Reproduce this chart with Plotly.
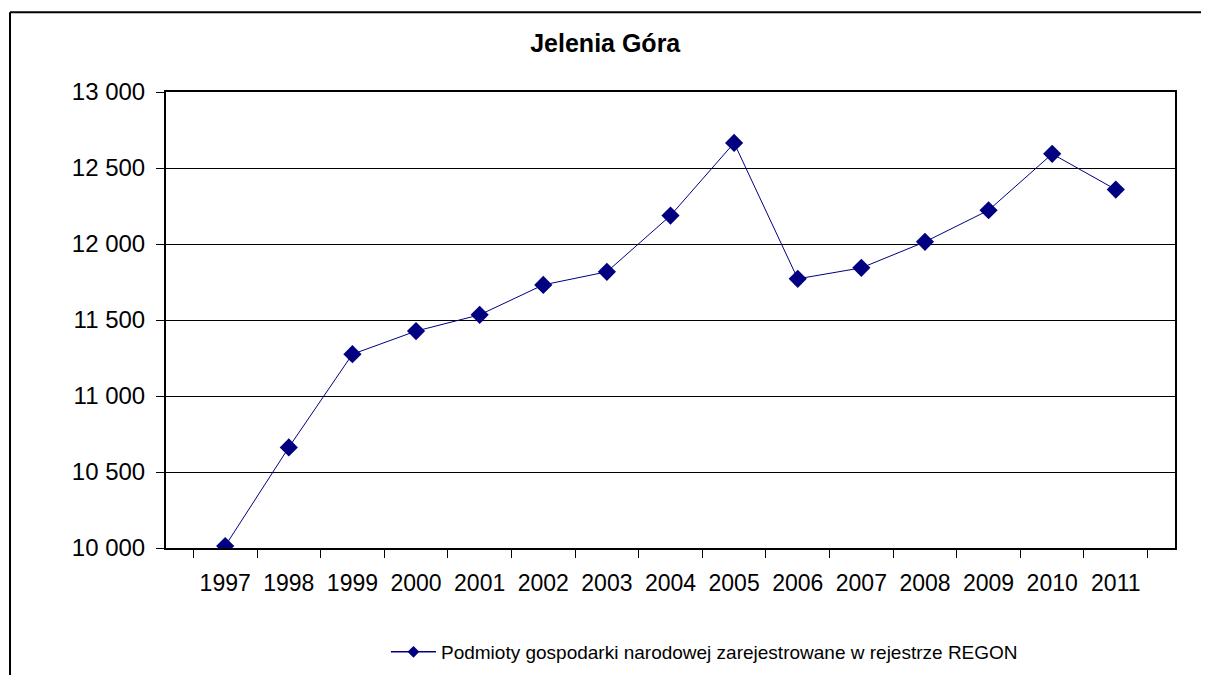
import plotly.graph_objects as go

years = ["1997", "1998", "1999", "2000", "2001", "2002", "2003", "2004",
         "2005", "2006", "2007", "2008", "2009", "2010", "2011"]
podmioty = [10013, 10662, 11275, 11427, 11534, 11731, 11817, 12187,
            12665, 11771, 11843, 12014, 12222, 12593, 12358]
y_ticks = [10000, 10500, 11000, 11500, 12000, 12500, 13000]

NAVY = "#000080"
FONT = "Liberation Sans, Arial, sans-serif"
SERIES = "Podmioty gospodarki narodowej zarejestrowane w rejestrze REGON"

fig = go.Figure()

fig.add_trace(go.Scatter(
    x=years, y=podmioty,
    mode="lines+markers",
    line=dict(color=NAVY, width=1),
    marker=dict(symbol="diamond", size=14, color=NAVY),
    name=SERIES, showlegend=False,
))
# legend entry only (smaller marker, as in the source legend)
fig.add_trace(go.Scatter(
    x=[None], y=[None],
    mode="lines+markers",
    line=dict(color=NAVY, width=1.5),
    marker=dict(symbol="diamond", size=9, color=NAVY),
    name=SERIES,
))

fig.update_layout(
    width=1209, height=675,
    paper_bgcolor="white", plot_bgcolor="white",
    separators=", ",
    margin=dict(l=158, r=42, t=84, b=135),
    font=dict(family=FONT, color="black", size=24),
    title=dict(
        text="<b>Jelenia Góra</b>", x=0.494, xanchor="center",
        y=0.948, yanchor="middle",
        font=dict(family=FONT, size=25),
    ),
    showlegend=True,
    legend=dict(
        orientation="h", x=0.218, xanchor="left", y=-0.228, yanchor="middle",
        font=dict(family=FONT, size=19), itemwidth=45,
        bgcolor="rgba(0,0,0,0)",
    ),
    xaxis=dict(
        type="category", tickson="boundaries", ticks="outside", ticklen=8,
        tickcolor="black", showgrid=False, showline=True, linecolor="black",
        linewidth=2, mirror=True, ticklabelstandoff=13,
        tickfont=dict(size=23),
    ),
    yaxis=dict(
        range=[10000, 13000], tickvals=y_ticks, tickformat=",d",
        ticks="outside", ticklen=8, tickcolor="black",
        showgrid=True, gridcolor="black", gridwidth=1,
        showline=True, linecolor="black", linewidth=2, mirror=True,
        zeroline=False, ticklabelstandoff=6,
    ),
)

# outer chart frame (top and left edges visible in the source)
fig.add_shape(type="line", xref="paper", yref="paper",
              x0=-0.1546, x1=1.1, y0=1.1747, y1=1.1747,
              line=dict(color="black", width=2))
fig.add_shape(type="line", xref="paper", yref="paper",
              x0=-0.1546, x1=-0.1546, y0=1.1747, y1=-0.35,
              line=dict(color="black", width=2))

fig.write_html("out.html")
